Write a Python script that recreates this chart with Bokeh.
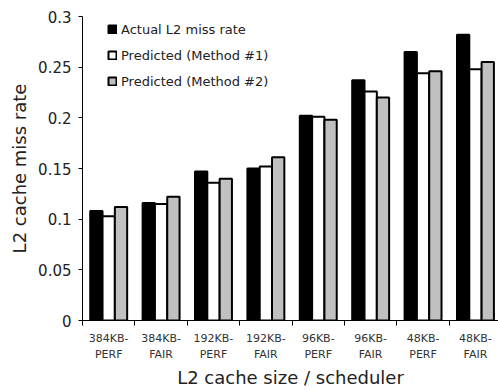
from bokeh.plotting import figure
from bokeh.models import (ColumnDataSource, FixedTicker, NumeralTickFormatter,
                          Range1d, Legend, LegendItem)
from bokeh.transform import dodge
from bokeh.embed import file_html
from bokeh.resources import INLINE

categories = ["384KB-\nPERF", "384KB-\nFAIR", "192KB-\nPERF", "192KB-\nFAIR",
              "96KB-\nPERF", "96KB-\nFAIR", "48KB-\nPERF", "48KB-\nFAIR"]
actual = [0.108, 0.116, 0.147, 0.150, 0.202, 0.237, 0.265, 0.282]
method1 = [0.103, 0.115, 0.136, 0.152, 0.201, 0.226, 0.244, 0.248]
method2 = [0.112, 0.122, 0.140, 0.161, 0.198, 0.220, 0.246, 0.255]
y_ticks = [0, 0.05, 0.1, 0.15, 0.2, 0.25, 0.3]

idx = list(range(len(categories)))
src = ColumnDataSource(dict(x=idx, actual=actual, m1=method1, m2=method2))

FONT = "DejaVu Sans"

p = figure(width=498, height=390, output_backend="svg", toolbar_location=None,
           x_range=Range1d(-0.5, 7.44), y_range=Range1d(0, 0.3),
           min_border_left=82, min_border_right=0, min_border_top=16,
           min_border_bottom=70)
p.outline_line_color = None
p.xgrid.visible = False
p.ygrid.visible = False

w = 0.235
r1 = p.vbar(x=dodge("x", -w, range=p.x_range), top="actual", width=w, source=src,
            fill_color="black", line_color="black", line_width=2)
r2 = p.vbar(x=dodge("x", 0, range=p.x_range), top="m1", width=w, source=src,
            fill_color="white", line_color="black", line_width=2)
r3 = p.vbar(x=dodge("x", w, range=p.x_range), top="m2", width=w, source=src,
            fill_color="#c0c0c0", line_color="black", line_width=2)

# x axis
p.xaxis.ticker = FixedTicker(ticks=idx, minor_ticks=[i - 0.5 for i in range(len(categories) + 1)])
p.xaxis.major_label_overrides = {i: c for i, c in enumerate(categories)}
p.xaxis.major_tick_out = 0
p.xaxis.major_tick_in = 0
p.xaxis.minor_tick_out = 5
p.xaxis.minor_tick_in = 0
p.xaxis.minor_tick_line_color = "black"
p.xaxis.major_label_text_font = FONT
p.xaxis.major_label_text_font_size = "11px"
p.xaxis.major_label_text_color = "#333333"
p.xaxis.major_label_text_line_height = 1.25
p.xaxis.major_label_standoff = 6
p.xaxis.axis_label = "L2 cache size / scheduler"
p.xaxis.axis_label_text_font = FONT
p.xaxis.axis_label_text_font_style = "normal"
p.xaxis.axis_label_text_font_size = "18px"
p.xaxis.axis_label_text_color = "#222222"
p.xaxis.axis_label_standoff = 3
p.xaxis.axis_line_color = "black"

# y axis
p.yaxis.ticker = FixedTicker(ticks=y_ticks)
p.yaxis.formatter = NumeralTickFormatter(format="0.[00]")
p.yaxis.minor_tick_line_color = None
p.yaxis.major_tick_out = 4
p.yaxis.major_tick_in = 0
p.yaxis.major_label_text_font = FONT
p.yaxis.major_label_text_font_size = "15px"
p.yaxis.major_label_text_color = "#222222"
p.yaxis.major_label_standoff = 7
p.yaxis.axis_label = "L2 cache miss rate"
p.yaxis.axis_label_text_font = FONT
p.yaxis.axis_label_text_font_style = "normal"
p.yaxis.axis_label_text_font_size = "18px"
p.yaxis.axis_label_text_color = "#222222"
p.yaxis.axis_label_standoff = 5
p.yaxis.axis_line_color = "black"

legend = Legend(items=[
    LegendItem(label="Actual L2 miss rate", renderers=[r1]),
    LegendItem(label="Predicted (Method #1)", renderers=[r2]),
    LegendItem(label="Predicted (Method #2)", renderers=[r3]),
], location=(25, 229))
legend.padding = 0
legend.margin = 0
legend.spacing = 6
legend.label_height = 20
legend.glyph_height = 10
legend.glyph_width = 10
legend.label_standoff = 4
legend.border_line_color = None
legend.background_fill_alpha = 0
legend.label_text_font = FONT
legend.label_text_font_size = "13px"
legend.label_text_color = "#222222"
p.add_layout(legend, "center")

open("out.html", "w").write(file_html(p, INLINE))
